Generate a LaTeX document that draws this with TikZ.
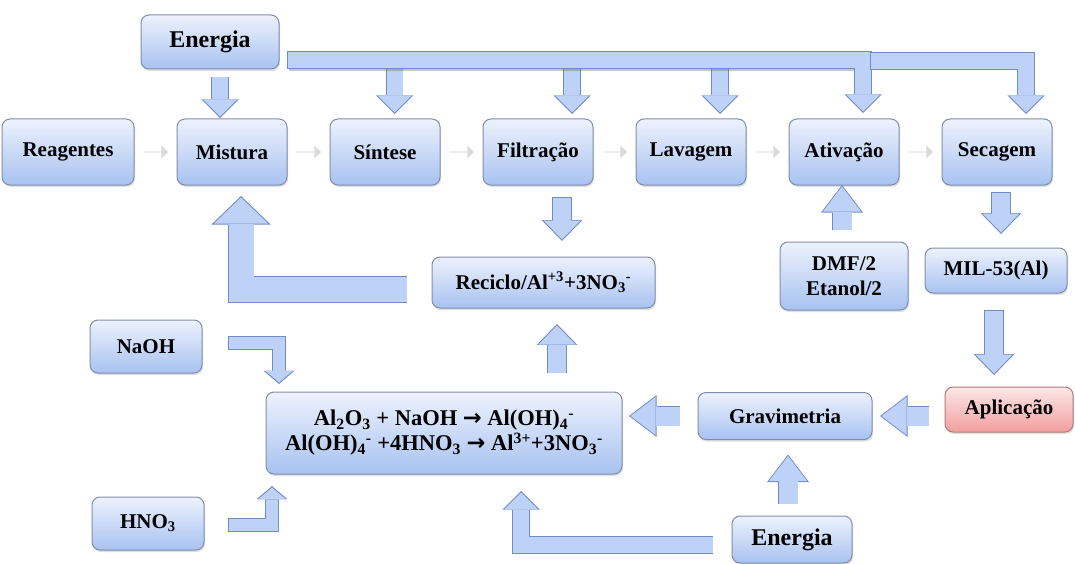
\documentclass[tikz,border=0pt]{standalone}
\usepackage{fontspec}
\setmainfont{Liberation Serif}
\newfontfamily\arrowfont{DejaVu Sans}
\usetikzlibrary{arrows.meta,positioning,calc,shadows,shapes.arrows}
\definecolor{boxtop}{RGB}{237,242,253}
\definecolor{boxbot}{RGB}{168,194,241}
\definecolor{boxline}{RGB}{128,142,172}
\definecolor{arrfill}{RGB}{190,209,246}
\definecolor{arrline}{RGB}{112,140,198}
\definecolor{redtop}{RGB}{253,232,232}
\definecolor{redbot}{RGB}{243,158,158}
\definecolor{redline}{RGB}{178,122,122}
\newcommand{\boxfont}{\fontsize{21}{25}\selectfont\bfseries}
\newcommand{\bigfont}{\fontsize{24}{28}\selectfont\bfseries}
\newcommand{\eqfont}{\fontsize{22.5}{25}\selectfont\bfseries}
\newcommand{\yields}{{\arrowfont\bfseries\symbol{"2192}}}
\newcommand{\chsub}[1]{\textsubscript{#1}}
\newcommand{\chsup}[1]{\textsuperscript{#1}}
\tikzset{
  box/.style={rectangle, draw=boxline, line width=1pt, rounded corners=8pt,
              top color=boxtop, bottom color=boxbot,
              minimum width=110pt, minimum height=66pt, align=center, font=\boxfont,
              drop shadow={shadow xshift=1pt, shadow yshift=-2pt, opacity=0.25}},
  chev/.style={single arrow, single arrow head extend=4pt, minimum height=24pt,
               minimum width=12pt, inner sep=0pt, left color=black!6, right color=black!16,
               draw=black!12},
  % block arrow: shorten start, shorten end, shaft, head width, head length
  fat/.style n args={5}{draw=arrfill, line width=#3, line join=miter,
      -{Triangle[length=#5, width=#4, line width=0pt]},
      shorten <=#1, shorten >=#2,
      preaction={draw=arrline, line width=#3+1.6pt, line join=miter,
        -{Triangle[length=#5, width=#4, line width=0pt, scale=1.1]},
        shorten <=#1-0.8pt, shorten >=#2-1.5pt}},
  blk/.style 2 args={fat={#1}{#2}{16pt}{34pt}{17pt}},
  mblk/.style 2 args={fat={#1}{#2}{18pt}{37pt}{19pt}},
  wblk/.style 2 args={fat={#1}{#2}{19pt}{38pt}{25pt}},
  bigblk/.style 2 args={fat={#1}{#2}{25pt}{54pt}{26pt}},
  smallblk/.style 2 args={fat={#1}{#2}{12.5pt}{28pt}{12pt}},
}
\begin{document}
\begin{tikzpicture}[x=1pt, y=-1pt, node distance=42pt]
  \useasboundingbox (0,0) rectangle (1075,564);
  % main line
  \node[box, minimum width=132pt] (reag) at (68,152) {Reagentes};
  \node[box, right=of reag] (mist) {Mistura};
  \node[box, right=of mist] (sint) {Síntese};
  \node[box, right=of sint] (filt) {Filtração};
  \node[box, right=of filt] (lav)  {Lavagem};
  \node[box, right=of lav]  (ativ) {Ativação};
  \node[box, right=of ativ] (sec)  {Secagem};
  \foreach \a/\b [count=\i] in {reag/mist,mist/sint,sint/filt,filt/lav,lav/ativ,ativ/sec}
    \node[chev] (ch\i) at ($(\a.east)!0.5!(\b.west)$) {};

  \node[box, font=\bigfont, minimum width=138pt, minimum height=54pt] (en1) at (210,42) {Energia};
  \node[box, minimum width=223pt, minimum height=51pt] (rec) at (543.5,282.5)
       {Reciclo/Al\chsup{+3}+3NO\chsub{3}\chsup{-}};
  \node[box, minimum width=128pt, minimum height=68pt] (dmf) at (844,276) {DMF/2\\Etanol/2};
  \node[box, minimum width=142pt, minimum height=45pt] (mil) at (996,270.5) {MIL-53(Al)};
  \node[box, minimum width=128pt, minimum height=45pt, top color=redtop, bottom color=redbot,
        draw=redline] (apl) at (1009,409.5) {Aplicação};
  \node[box, minimum width=174pt, minimum height=47pt] (grav) at (785,416) {Gravimetria};
  \node[box, font=\bigfont, minimum width=120pt, minimum height=47pt] (en2) at (792,539.5) {Energia};
  \node[box, minimum width=356pt, minimum height=82pt, font=\eqfont] (eq) at (444,433)
       {Al\chsub{2}O\chsub{3} + NaOH \yields{} Al(OH)\chsub{4}\chsup{-}\\
        Al(OH)\chsub{4}\chsup{-} +4HNO\chsub{3} \yields{} Al\chsup{3+}+3NO\chsub{3}\chsup{-}};
  \node[box, minimum width=112pt, minimum height=53pt] (naoh) at (146,346.5) {NaOH};
  \node[box, minimum width=112pt, minimum height=53pt] (hno3) at (148,523.5) {HNO\chsub{3}};

  % energy bus
  \coordinate (bus) at ($(en1.south east)+(8,-9.5)$);
  \coordinate (split) at ($(ativ.north |- bus)+(27,1)$);
  \foreach \n/\d in {sint/9.6, filt/34, lav/29}
    \draw[blk={8pt}{6pt}] ($(\n.north |- bus)+(\d,0)$) -- ($(\n.north)+(\d,0)$);
  \draw[black!55, opacity=0.4, line width=3pt] ($(bus)+(1,10)$) -- ($(split)+(-8,9)$);
  \draw[blk={0pt}{7pt}] (bus) -| ($(ativ.north)+(19,0)$);
  \draw[blk={0pt}{6pt}] (split) -| ($(sec.north)+(29,0)$);
  \draw[blk={8pt}{2pt}] ($(en1.south)+(10,0)$) -- ($(en1.south |- mist.north)+(10,0)$);

  % recycle loop
  \draw[mblk={12pt}{17pt}] ($(filt.south)+(24,0)$) -- ($(filt.south |- rec.north)+(24,0)$);
  \draw[bigblk={0pt}{12pt}] ($(rec.west)+(-25,7)$) -| ($(mist.south)+(9,0)$);
  \draw[mblk={19pt}{17pt}] ($(eq.north)+(113,0)$) -- ($(eq.north |- rec.south)+(113,0)$);
  \draw[smallblk={0pt}{9pt}] ($(naoh.east)+(26,-3.5)$) -| ($(eq.north)+(-165,0)$);
  \draw[smallblk={0pt}{13pt}] ($(hno3.east)+(24,1.5)$) -| ($(eq.south)+(-172,0)$);

  % product side
  \draw[wblk={12pt}{1pt}] ($(dmf.north)+(-2,0)$) -- ($(dmf.north |- ativ.south)+(-2,0)$);
  \draw[mblk={7pt}{15pt}] ($(sec.south)+(4,0)$) -- ($(sec.south |- mil.north)+(4,0)$);
  \draw[mblk={17pt}{13pt}] ($(mil.south)+(-2,0)$) -- ($(mil.south |- apl.north)+(-2,0)$);
  \draw[wblk={16pt}{9pt}] (apl.west |- grav.east) -- (grav.east);
  \draw[wblk={18pt}{8pt}] (grav.west) -- (grav.west -| eq.east);
  \draw[wblk={12pt}{16pt}] ($(en2.north)+(-4,0)$) -- ($(en2.north |- grav.south)+(-4,0)$);
  \draw[blk={0pt}{18pt}] ($(en2.west)+(-19,5.5)$) -| ($(eq.south)+(77,0)$);
\end{tikzpicture}
\end{document}
